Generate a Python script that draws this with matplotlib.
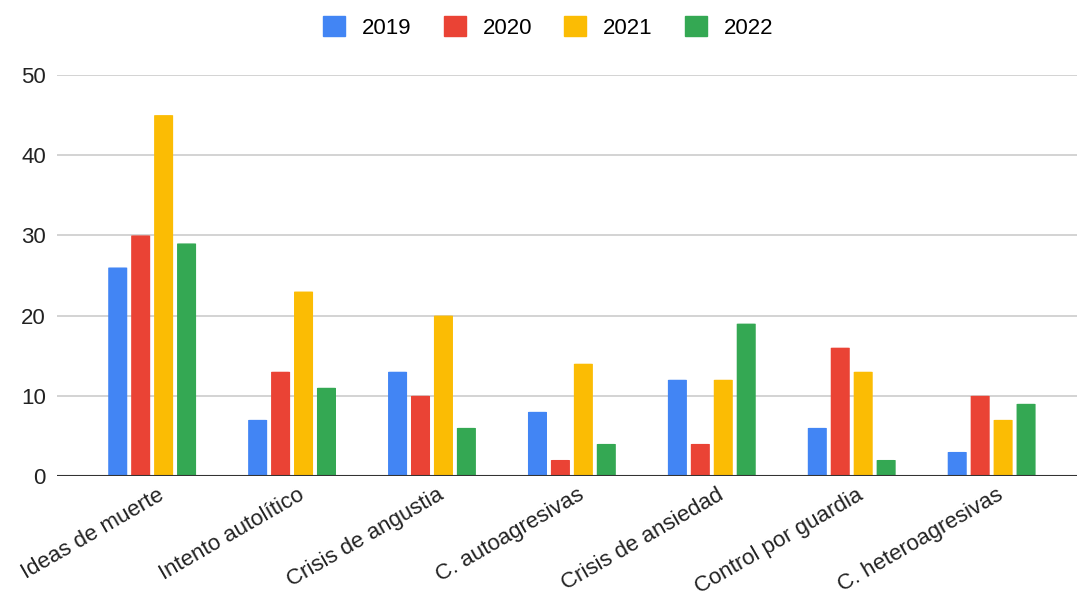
import numpy as np
import matplotlib
matplotlib.use("Agg")
import matplotlib.pyplot as plt
import matplotlib.transforms as mtransforms
from matplotlib.patches import FancyBboxPatch

categories = ["Ideas de muerte", "Intento autolítico", "Crisis de angustia",
              "C. autoagresivas", "Crisis de ansiedad", "Control por guardia",
              "C. heteroagresivas"]
years = ["2019", "2020", "2021", "2022"]
v2019 = [26, 7, 13, 8, 12, 6, 3]
v2020 = [30, 13, 10, 2, 4, 16, 10]
v2021 = [45, 23, 20, 14, 12, 13, 7]
v2022 = [29, 11, 6, 4, 19, 2, 9]
colors = ["#4285F4", "#EA4335", "#FBBC04", "#34A853"]

plt.rcParams['font.family'] = ['Liberation Sans', 'DejaVu Sans']

fig = plt.figure(figsize=(10.77, 6.0), dpi=100)
ax = fig.add_axes([57/1077, 124/600, 1 - 57/1077, 401/600])

x = np.arange(len(categories))
width = 0.136
step = 0.164
series = [v2019, v2020, v2021, v2022]
for k, (vals, c, lab) in enumerate(zip(series, colors, years)):
    off = (k - 1.5) * step
    bars = ax.bar(x + off, vals, width, color=c, label=lab, zorder=3)
    for b in bars:
        b.set_visible(False)
        p = FancyBboxPatch((b.get_x(), 0), b.get_width(), b.get_height(),
                           boxstyle="round,pad=0,rounding_size=0.015",
                           mutation_aspect=2.5, color=c, zorder=3, linewidth=0)
        ax.add_patch(p)

ax.set_xlim(-0.68, 6.61)
ax.set_ylim(0, 50)
ax.set_yticks([0, 10, 20, 30, 40, 50])
ax.yaxis.grid(True, color="#cccccc", linewidth=1.2, zorder=0)
ax.set_axisbelow(True)
ax.axhline(0, color="#333333", linewidth=1.5, zorder=4)
for s in ax.spines.values():
    s.set_visible(False)
ax.tick_params(axis='both', length=0, labelsize=16, colors="#222222")
ax.tick_params(axis='y', pad=8)
ax.tick_params(axis='x', pad=6)
ax.set_xticks(x)
ax.set_xticklabels(categories, rotation=30, ha='right', rotation_mode='anchor')
shift = mtransforms.ScaledTranslation(5/100, 0, fig.dpi_scale_trans)
for t in ax.get_xticklabels():
    t.set_transform(t.get_transform() + shift)

handles = [FancyBboxPatch((0, 0), 1, 1, boxstyle="round,pad=0,rounding_size=0.15",
                          color=c) for c in colors]
fig.legend(handles, years, loc='upper center', bbox_to_anchor=(0.509, 1.006),
           ncol=4, frameon=False, fontsize=16, handlelength=1.0,
           handleheight=1.0, handletextpad=0.75, columnspacing=1.45)

fig.savefig("out.png", dpi=100)
